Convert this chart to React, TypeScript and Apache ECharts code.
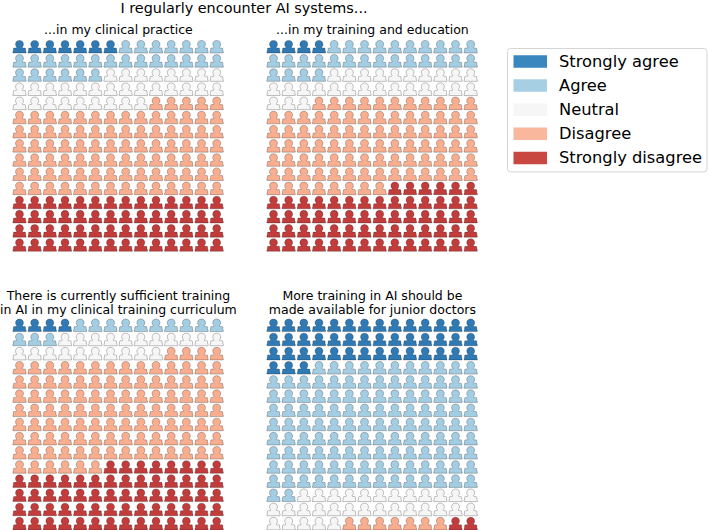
import React, { useEffect, useRef } from "react";
import * as echarts from "echarts";

const categories = ["Strongly agree", "Agree", "Neutral", "Disagree", "Strongly disagree"];
const clinicalPractice = [7, 27, 31, 89, 56];
const trainingEducation = [4, 28, 27, 89, 62];
const sufficientTraining = [4, 13, 21, 108, 64];
const moreTraining = [45, 125, 31, 7, 2];
const mainTitle = "I regularly encounter AI systems...";
const panelTitles = [
  "...in my clinical practice",
  "...in my training and education",
  "There is currently sufficient training\nin AI in my clinical training curriculum",
  "More training in AI should be\nmade available for junior doctors",
];
const fills = ["#2f7ab5", "#a3cde3", "#f6f6f6", "#f8ae8f", "#c23c3c"];
const legendFills = ["#3a86bf", "#a6cfe4", "#f6f6f6", "#f9b79d", "#c94741"];
const COLUMNS = 14;
const ROWS = 15;

const PERSON =
  "path://M50 0C68 0 80 13 80 30C80 40 76 48 71 53L71 56C71 58 74 60 78 60L90 60C95 60 96 64 96 68L97 86L100 88L100 100L0 100L0 88L3 86L4 68C4 64 5 60 10 60L22 60C26 60 29 58 29 56L29 53C24 48 20 40 20 30C20 13 32 0 50 0Z";

const panels = [clinicalPractice, trainingEducation, sufficientTraining, moreTraining];
const lefts = [19.5, 273.5];
const tops = [46.7, 325.3];

function pointsFor(counts: number[]) {
  const out: number[][][] = [];
  let index = 0;
  counts.forEach((n) => {
    const pts: number[][] = [];
    for (let i = 0; i < n; i++) {
      pts.push([index % COLUMNS, Math.floor(index / COLUMNS)]);
      index++;
    }
    out.push(pts);
  });
  return out;
}

export default function App() {
  const ref = useRef<HTMLDivElement>(null);
  useEffect(() => {
    const chart = echarts.init(ref.current!, undefined, { renderer: "svg" });
    const FONT = "DejaVu Sans";
    const grid: any[] = [];
    const xAxis: any[] = [];
    const yAxis: any[] = [];
    const series: any[] = [];
    const title: any[] = [
      {
        text: mainTitle,
        left: 239,
        top: -4.5,
        textAlign: "center",
        textStyle: { fontFamily: FONT, fontSize: 14.4, fontWeight: "normal", color: "#000" },
      },
    ];
    panels.forEach((counts, p) => {
      const left = lefts[p % 2];
      const top = tops[p < 2 ? 0 : 1];
      grid.push({ left, top, width: 197.2, height: 198.3 });
      xAxis.push({ gridIndex: p, type: "value", min: 0, max: COLUMNS - 1, show: false });
      yAxis.push({ gridIndex: p, type: "value", min: 0, max: ROWS - 1, inverse: true, show: false });
      const twoLine = panelTitles[p].includes("\n");
      title.push({
        text: panelTitles[p],
        left: left + 93.9,
        top: twoLine ? 283 : 17.3,
        textAlign: "center",
        textStyle: {
          fontFamily: FONT,
          fontSize: 12.5,
          fontWeight: "normal",
          color: "#000",
          lineHeight: 14.2,
        },
      });
      pointsFor(counts).forEach((pts, c) => {
        series.push({
          type: "scatter",
          name: categories[c],
          xAxisIndex: p,
          yAxisIndex: p,
          data: pts,
          clip: false,
          symbol: PERSON,
          symbolSize: [13.2, 12.6],
          itemStyle: {
            color: fills[c],
            opacity: 1,
            borderColor: "rgba(0,0,0,0.3)",
            borderWidth: 0.8,
          },
        });
      });
    });
    chart.setOption({
      animation: false,
      backgroundColor: "#fff",
      title,
      grid,
      xAxis,
      yAxis,
      series,
      legend: {
        show: true,
        orient: "vertical",
        left: 507.5,
        top: 48.5,
        padding: [5, 5, 6, 6],
        itemWidth: 33.5,
        itemHeight: 12.5,
        itemGap: 8.1,
        selectedMode: false,
        borderColor: "#d5d5d5",
        borderWidth: 1,
        borderRadius: 3,
        textStyle: { fontFamily: FONT, fontSize: 16.3, color: "#000", padding: [0, 0, 0, 7] },
        data: categories.map((name, c) => ({
          name,
          icon: "rect",
          itemStyle: { color: legendFills[c], borderWidth: 0 },
        })),
      },
    });
    return () => chart.dispose();
  }, []);
  return <div ref={ref} style={{ position: "absolute", left: 0, top: 0, width: 709, height: 530 }} />;
}
